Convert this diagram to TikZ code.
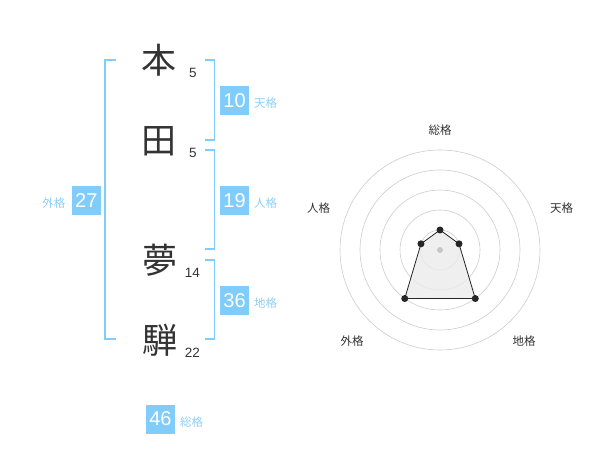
\documentclass[tikz,border=0pt]{standalone}
\usepackage{fontspec}
\setmainfont{Noto Sans CJK JP}
\newfontfamily\numfont{Liberation Sans}
\begin{document}
\begin{tikzpicture}[x=1pt,y=-1pt,
  kanji/.style={font=\fontsize{35}{35}\selectfont, text=black!80, inner sep=0pt},
  strk/.style={font=\numfont\fontsize{13.5}{14}\selectfont, text=black!80, inner sep=0pt},
  valbox/.style={fill=skyb, text=white, minimum width=29pt, minimum height=29pt, inner sep=0pt, font=\numfont\fontsize{20}{20}\selectfont},
  lab/.style={text=skyl, font=\fontsize{11.5}{12}\selectfont, inner sep=0pt},
  brk/.style={draw=skyb, line width=1.6pt},
  ring/.style={draw=black!20, line width=0.6pt},
  rlab/.style={text=black!80, font=\fontsize{11.5}{12}\selectfont, inner sep=0pt},
  dot/.style={circle, fill=black!85, inner sep=0pt, minimum size=7pt}
]
\definecolor{skyb}{HTML}{80CCFA}
\definecolor{skyl}{HTML}{8CCFF5}
\useasboundingbox (0,0) rectangle (600,470);
% kanji
\node[kanji] (k1) at (159,60) {本};
\node[kanji] (k2) at (159,141) {田};
\node[kanji] (k3) at (160,260) {夢};
\node[kanji] (k4) at (160,340) {騨};
\node[strk] (s1) at (193,72.5) {5};
\node[strk] (s2) at (193,152.5) {5};
\node[strk] (s3) at (192.5,272.5) {14};
\node[strk] (s4) at (192.5,352.5) {22};
% brackets
\coordinate (a1) at (116,60); \coordinate (a2) at (105,60);
\coordinate (a3) at (105,339); \coordinate (a4) at (116,339);
\draw[brk] (a1) -- (a2) -- (a3) -- (a4);
\coordinate (b1) at (205,60); \coordinate (b2) at (214.5,60);
\coordinate (b3) at (214.5,140); \coordinate (b4) at (205,140);
\draw[brk] (b1) -- (b2) -- (b3) -- (b4);
\coordinate (c1) at (205,150); \coordinate (c2) at (214.5,150);
\coordinate (c3) at (214.5,249); \coordinate (c4) at (205,249);
\draw[brk] (c1) -- (c2) -- (c3) -- (c4);
\coordinate (d1) at (205,260); \coordinate (d2) at (214.5,260);
\coordinate (d3) at (214.5,339); \coordinate (d4) at (205,339);
\draw[brk] (d1) -- (d2) -- (d3) -- (d4);
% value boxes
\node[valbox] (v10) at (234.6,100.5) {10};
\node[lab, anchor=west] (l10) at (254,103.5) {天格};
\node[valbox] (v19) at (234.6,200.5) {19};
\node[lab, anchor=west] (l19) at (254,203.5) {人格};
\node[valbox] (v27) at (86.3,200.5) {27};
\node[lab, anchor=east] (l27) at (65.5,203.5) {外格};
\node[valbox] (v36) at (234.6,300.5) {36};
\node[lab, anchor=west] (l36) at (254,303.5) {地格};
\node[valbox] (v46) at (160.5,419) {46};
\node[lab, anchor=west] (l46) at (180,422) {総格};
% radar
\coordinate (ctr) at (440,250);
\foreach \r in {20,40,60,80,100} \draw[ring] (ctr) circle (\r);
\path (ctr) ++(0,-20) coordinate (p1);
\path (ctr) ++(-18:20) coordinate (p2);
\path (ctr) ++(54:60) coordinate (p3);
\path (ctr) ++(126:60) coordinate (p4);
\path (ctr) ++(198:20) coordinate (p5);
\fill[black!8, opacity=0.8] (p1) -- (p2) -- (p3) -- (p4) -- (p5) -- cycle;
\draw[black!85, line width=0.8pt] (p1) -- (p2) -- (p3) -- (p4) -- (p5) -- cycle;
\node[circle, fill=black!22, inner sep=0pt, minimum size=6pt] (cd) at (ctr) {};
\foreach \p in {p1,p2,p3,p4,p5} \node[dot] at (\p) {};
\node[rlab] (r1) at (440,130) {総格};
\node[rlab] (r2) at (561.5,208.5) {天格};
\node[rlab] (r3) at (524,341.5) {地格};
\node[rlab] (r4) at (352,341.5) {外格};
\node[rlab] (r5) at (318.5,208.5) {人格};
\end{tikzpicture}
\end{document}
